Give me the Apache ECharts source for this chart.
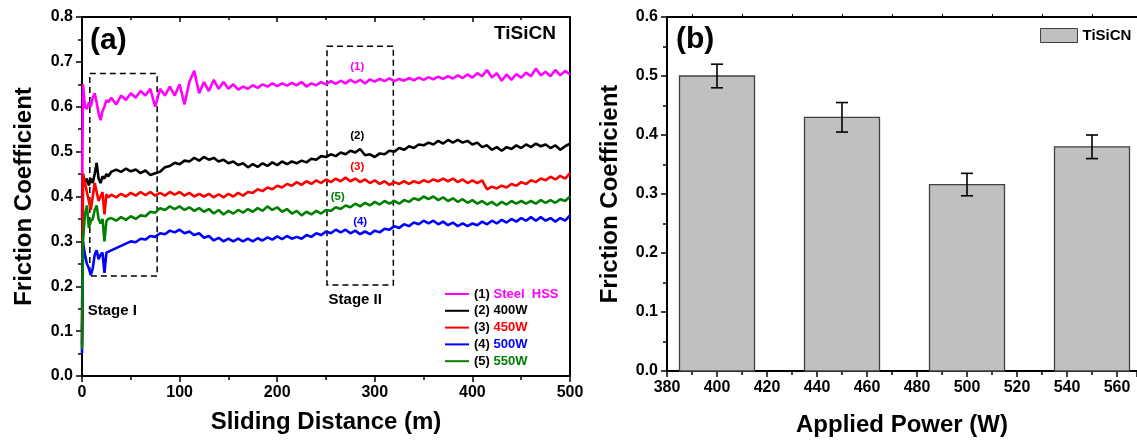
<!DOCTYPE html>
<html><head><meta charset="utf-8">
<script src="https://cdn.jsdelivr.net/npm/echarts@6/dist/echarts.min.js"></script>
<style>html,body{margin:0;padding:0;background:#fff}#c{width:1137px;height:444px}</style>
</head><body><div id="c"></div>
<script>
// ---------- DATA: panel (a) ----------
const distance = [0,1,3,5,7,9,11,13,15,17,19,21,23,25,27,30,
  35,40,45,50,55,60,65,70,75,80,
  85,90,95,100,105,110,115,120,125,130,
  135,140,145,150,155,160,165,170,175,180,
  185,190,195,200,205,210,215,220,225,230,
  235,240,245,250,255,260,265,270,275,280,
  285,290,295,300,305,310,315,320,325,330,
  335,340,345,350,355,360,365,370,375,380,
  385,390,395,400,405,410,415,420,425,430,
  435,440,445,450,455,460,465,470,475,480,
  485,490,495,500];

const steelHSS = [0.35,0.65,0.60,0.595,0.61,0.60,0.62,0.63,0.61,0.585,0.57,0.59,0.60,0.615,0.61,0.62,
  0.605,0.625,0.615,0.63,0.62,0.635,0.625,0.64,0.60,0.64,
  0.625,0.645,0.625,0.65,0.605,0.655,0.68,0.63,0.655,0.635,
  0.66,0.64,0.655,0.64,0.65,0.638,0.645,0.64,0.648,0.642,
  0.65,0.645,0.652,0.646,0.652,0.647,0.653,0.648,0.655,0.645,
  0.652,0.648,0.655,0.65,0.657,0.651,0.658,0.652,0.66,0.654,
  0.66,0.652,0.661,0.656,0.662,0.657,0.663,0.657,0.662,0.658,
  0.664,0.659,0.665,0.66,0.666,0.661,0.667,0.662,0.668,0.663,
  0.67,0.664,0.672,0.665,0.675,0.668,0.682,0.665,0.675,0.658,
  0.672,0.66,0.673,0.665,0.676,0.668,0.685,0.67,0.678,0.668,
  0.682,0.67,0.68,0.672];

const w400 = [0.10,0.45,0.43,0.44,0.425,0.44,0.43,0.45,0.475,0.44,0.43,0.445,0.44,0.45,0.445,0.455,
  0.46,0.455,0.462,0.456,0.46,0.452,0.458,0.448,0.452,0.455,
  0.465,0.468,0.475,0.472,0.48,0.478,0.486,0.48,0.488,0.482,
  0.486,0.478,0.482,0.474,0.478,0.47,0.474,0.465,0.472,0.466,
  0.474,0.468,0.476,0.47,0.478,0.472,0.478,0.474,0.48,0.476,
  0.484,0.482,0.49,0.488,0.494,0.49,0.498,0.494,0.502,0.498,
  0.506,0.492,0.494,0.488,0.496,0.494,0.502,0.5,0.508,0.504,
  0.512,0.508,0.516,0.514,0.52,0.516,0.524,0.518,0.526,0.52,
  0.526,0.52,0.524,0.516,0.52,0.51,0.514,0.504,0.51,0.502,
  0.51,0.506,0.514,0.508,0.516,0.51,0.518,0.512,0.516,0.508,
  0.514,0.504,0.512,0.518];

const w450 = [0.07,0.45,0.43,0.41,0.39,0.37,0.40,0.43,0.41,0.39,0.40,0.41,0.36,0.405,0.398,0.404,
  0.398,0.406,0.4,0.408,0.402,0.41,0.403,0.41,0.402,0.408,
  0.402,0.41,0.404,0.41,0.402,0.408,0.4,0.406,0.4,0.406,
  0.398,0.405,0.398,0.406,0.4,0.408,0.402,0.41,0.408,0.416,
  0.412,0.42,0.416,0.424,0.42,0.428,0.424,0.432,0.426,0.434,
  0.428,0.436,0.43,0.438,0.432,0.44,0.434,0.442,0.434,0.44,
  0.432,0.438,0.43,0.436,0.428,0.434,0.426,0.432,0.428,0.434,
  0.428,0.434,0.43,0.436,0.432,0.438,0.434,0.44,0.434,0.44,
  0.432,0.438,0.43,0.436,0.43,0.436,0.416,0.422,0.418,0.424,
  0.42,0.428,0.424,0.432,0.428,0.436,0.432,0.44,0.436,0.444,
  0.438,0.446,0.44,0.452];

const w500 = [0.05,0.30,0.27,0.25,0.24,0.225,0.24,0.27,0.28,0.26,0.27,0.275,0.23,0.275,0.272,0.28,
  0.285,0.29,0.295,0.3,0.298,0.306,0.304,0.312,0.31,0.318,
  0.316,0.324,0.32,0.326,0.318,0.322,0.314,0.318,0.308,0.312,
  0.302,0.308,0.3,0.306,0.3,0.306,0.3,0.306,0.3,0.307,
  0.302,0.309,0.304,0.311,0.305,0.312,0.306,0.31,0.306,0.314,
  0.31,0.318,0.314,0.322,0.318,0.326,0.32,0.326,0.318,0.324,
  0.316,0.322,0.316,0.324,0.32,0.328,0.326,0.334,0.33,0.338,
  0.334,0.342,0.338,0.346,0.34,0.346,0.338,0.344,0.336,0.342,
  0.334,0.34,0.334,0.34,0.336,0.344,0.338,0.346,0.34,0.348,
  0.342,0.35,0.344,0.352,0.346,0.354,0.346,0.354,0.346,0.352,
  0.344,0.352,0.346,0.358];

const w550 = [0.06,0.30,0.36,0.38,0.33,0.345,0.35,0.37,0.38,0.35,0.34,0.35,0.30,0.345,0.35,0.352,
  0.346,0.354,0.348,0.356,0.35,0.358,0.356,0.366,0.364,0.374,
  0.37,0.378,0.372,0.378,0.37,0.376,0.368,0.374,0.366,0.372,
  0.362,0.37,0.36,0.368,0.362,0.37,0.364,0.372,0.366,0.374,
  0.368,0.378,0.37,0.376,0.366,0.372,0.362,0.368,0.358,0.366,
  0.36,0.368,0.362,0.37,0.368,0.376,0.372,0.38,0.376,0.384,
  0.378,0.386,0.38,0.388,0.382,0.39,0.384,0.39,0.384,0.392,
  0.388,0.396,0.392,0.4,0.394,0.4,0.392,0.398,0.39,0.396,
  0.388,0.394,0.386,0.392,0.384,0.39,0.382,0.388,0.38,0.388,
  0.382,0.39,0.384,0.39,0.384,0.39,0.384,0.392,0.386,0.392,
  0.386,0.394,0.39,0.4];

const seriesTags = ['(1)','(2)','(3)','(4)','(5)'];
const seriesLabels = ['Steel  HSS','400W','450W','500W','550W'];
const seriesValues = [steelHSS, w400, w450, w500, w550];

// annotations (data coordinates)
const curveTagX = [282, 282, 282, 285, 262];
const curveTagY = [0.689, 0.535, 0.466, 0.344, 0.40];
const stageNames = ['Stage I', 'Stage II'];
const stageTextX = [31, 280];
const stageTextY = [0.145, 0.169];
const stageBoxX0 = [8, 251];
const stageBoxX1 = [77, 319];
const stageBoxYTop = [0.674, 0.735];
const stageBoxYBottom = [0.223, 0.203];

// ---------- DATA: panel (b) ----------
const powers = [400, 450, 500, 550];
const frictionMean = [0.50, 0.43, 0.316, 0.38];
const frictionErr = [0.02, 0.025, 0.019, 0.02];

// ---------- STYLE ----------
const FONT = '"Liberation Sans", Arial, sans-serif';
const colors = ['#ff00ff', '#000000', '#ff0000', '#0000ff', '#008000'];
const BAR_HALF = 15;   // half bar width in W
const CAP = 6;         // error cap half width px

const chart = echarts.init(document.getElementById('c'), null, {renderer: 'canvas'});

const lab = {fontFamily: FONT, fontWeight: 'bold', fontSize: 16, color: '#000'};
const nameStyle = {fontFamily: FONT, fontWeight: 'bold', fontSize: 24, color: '#000'};
const axLine = {show: true, onZero: false, lineStyle: {color: '#000', width: 2}};
const tickOut = {show: true, inside: false, length: 6, lineStyle: {color: '#000', width: 1.5}};
const tickIn = {show: true, inside: true, length: 5, lineStyle: {color: '#000', width: 1.5}};
const minorOut = {show: true, splitNumber: 2, length: 4, lineStyle: {color: '#000', width: 1.5}};

const lineSeries = seriesValues.map((vals, i) => ({
  name: seriesTags[i] + ' ' + seriesLabels[i],
  type: 'line',
  xAxisIndex: 0, yAxisIndex: 0,
  data: distance.map((d, k) => [d, vals[k]]),
  symbol: 'none', showSymbol: false,
  lineStyle: {color: colors[i], width: 2.6},
  itemStyle: {color: colors[i]},
  z: 3,
  markArea: i === 0 ? {
    silent: true,
    itemStyle: {color: 'rgba(0,0,0,0)', borderColor: '#000', borderWidth: 1.5, borderType: [6, 4]},
    data: stageNames.map((n, s) => [{coord: [stageBoxX0[s], stageBoxYTop[s]]}, {coord: [stageBoxX1[s], stageBoxYBottom[s]]}])
  } : undefined
}));

const tagLabel = (color, size) => ({show: true, position: 'inside', formatter: '{b}', color: color, opacity: 1,
  textBorderWidth: 0, textBorderColor: 'transparent', fontSize: size, fontWeight: 'bold', fontFamily: FONT});

const annotations = {
  type: 'scatter', xAxisIndex: 0, yAxisIndex: 0, symbolSize: 2,
  itemStyle: {color: 'rgba(0,0,0,0)'}, silent: true, z: 5,
  emphasis: {disabled: true},
  data: seriesTags.map((t, i) => ({
    name: t, value: [curveTagX[i], curveTagY[i]], label: tagLabel(colors[i], 11.5)
  })).concat(stageNames.map((n, s) => ({
    name: n, value: [stageTextX[s], stageTextY[s]], label: tagLabel('#000', 15)
  })))
};

const barSeries = {
  name: 'TiSiCN', type: 'custom', xAxisIndex: 2, yAxisIndex: 2,
  data: powers.map((p, i) => [p, frictionMean[i]]),
  itemStyle: {color: '#c0c0c0', borderColor: '#404040', borderWidth: 1},
  renderItem: function (params, api) {
    const x = api.value(0), y = api.value(1);
    const p1 = api.coord([x - BAR_HALF, y]);
    const p2 = api.coord([x + BAR_HALF, 0]);
    return {type: 'rect', shape: {x: p1[0], y: p1[1], width: p2[0] - p1[0], height: p2[1] - p1[1]},
      style: {fill: '#c0c0c0', stroke: '#404040', lineWidth: 1.3}};
  }
};
const errSeries = {
  type: 'custom', xAxisIndex: 2, yAxisIndex: 2, z: 4,
  data: powers.map((p, i) => [p, frictionMean[i], frictionErr[i]]),
  renderItem: function (params, api) {
    const x = api.value(0), y = api.value(1), e = api.value(2);
    const hi = api.coord([x, y + e]), lo = api.coord([x, y - e]);
    const st = {stroke: '#000', lineWidth: 1.6};
    return {type: 'group', children: [
      {type: 'line', shape: {x1: hi[0], y1: hi[1], x2: lo[0], y2: lo[1]}, style: st},
      {type: 'line', shape: {x1: hi[0] - CAP, y1: hi[1], x2: hi[0] + CAP, y2: hi[1]}, style: st},
      {type: 'line', shape: {x1: lo[0] - CAP, y1: lo[1], x2: lo[0] + CAP, y2: lo[1]}, style: st}
    ]};
  }
};

const rich = {k: {color: '#000', fontWeight: 'bold', fontSize: 13, fontFamily: FONT}};
colors.forEach((c, i) => { rich['c' + i] = {color: c, fontWeight: 'bold', fontSize: 13, fontFamily: FONT}; });

const option = {
  animation: false,
  backgroundColor: '#fff',
  grid: [
    {left: 82, top: 17, width: 488, height: 359},
    {left: 667, top: 17, width: 470, height: 354}
  ],
  xAxis: [
    {gridIndex: 0, type: 'value', min: 0, max: 500, interval: 100, position: 'bottom',
     axisLine: axLine, axisTick: tickOut, minorTick: minorOut, splitLine: {show: false}, minorSplitLine: {show: false},
     axisLabel: Object.assign({margin: 9}, lab),
     name: 'Sliding Distance (m)', nameLocation: 'middle', nameGap: 34, nameTextStyle: nameStyle},
    {gridIndex: 0, type: 'value', min: 0, max: 500, interval: 100, position: 'top',
     axisLine: axLine, axisTick: tickIn, minorTick: {show: true, splitNumber: 2, length: 3, lineStyle: {color: '#000', width: 1.5}},
     axisLabel: {show: false}, splitLine: {show: false}},
    {gridIndex: 1, type: 'value', min: 380, max: 568, interval: 20, position: 'bottom',
     axisLine: axLine, axisTick: tickOut, minorTick: minorOut, splitLine: {show: false},
     axisLabel: Object.assign({margin: 9, showMaxLabel: false}, lab),
     name: 'Applied Power (W)', nameLocation: 'middle', nameGap: 42, nameTextStyle: nameStyle},
    {gridIndex: 1, type: 'value', min: 380, max: 568, interval: 20, position: 'top',
     axisLine: axLine, axisTick: {show: false}, minorTick: {show: true, splitNumber: 2, length: 3, lineStyle: {color: '#000', width: 1}},
     axisLabel: {show: false}, splitLine: {show: false}}
  ],
  yAxis: [
    {gridIndex: 0, type: 'value', min: 0, max: 0.8, interval: 0.1, position: 'left',
     axisLine: axLine, axisTick: tickOut, minorTick: minorOut, splitLine: {show: false},
     axisLabel: Object.assign({margin: 9, formatter: v => v.toFixed(1)}, lab),
     name: 'Friction Coefficient', nameLocation: 'middle', nameGap: 46, nameTextStyle: nameStyle},
    {gridIndex: 0, type: 'value', min: 0, max: 0.8, interval: 0.1, position: 'right',
     axisLine: axLine, axisTick: {show: false}, axisLabel: {show: false}, splitLine: {show: false}},
    {gridIndex: 1, type: 'value', min: 0, max: 0.6, interval: 0.1, position: 'left',
     axisLine: axLine, axisTick: tickOut, minorTick: minorOut, splitLine: {show: false},
     axisLabel: Object.assign({margin: 9, formatter: v => v.toFixed(1)}, lab),
     name: 'Friction Coefficient', nameLocation: 'middle', nameGap: 45, nameTextStyle: nameStyle}
  ],
  legend: [
    {orient: 'vertical', left: 445, top: 287, padding: 0, itemGap: 2.8, itemWidth: 24, itemHeight: 2, icon: 'rect',
     data: lineSeries.map(s => s.name), selectedMode: false,
     textStyle: {fontSize: 13, fontWeight: 'bold', fontFamily: FONT, lineHeight: 14, rich: rich},
     formatter: function (name) { const i = lineSeries.findIndex(s => s.name === name); return '{k|' + seriesTags[i] + '} {c' + i + '|' + seriesLabels[i] + '}'; }},
    {orient: 'vertical', left: 1040, top: 28, padding: 0, itemWidth: 37, itemHeight: 14, icon: 'rect', selectedMode: false,
     data: ['TiSiCN'], itemStyle: {color: '#c0c0c0', borderColor: '#404040', borderWidth: 1},
     textStyle: {fontSize: 15, fontWeight: 'bold', fontFamily: FONT, color: '#000'}}
  ],
  graphic: [
    {type: 'text', x: 90, y: 41, style: {text: '(a)', fill: '#000', fontSize: 30, fontWeight: 'bold', fontFamily: FONT, align: 'left', verticalAlign: 'middle'}},
    {type: 'text', x: 556, y: 34, style: {text: 'TiSiCN', fill: '#000', fontSize: 19, fontWeight: 'bold', fontFamily: FONT, align: 'right', verticalAlign: 'middle'}},
    {type: 'text', x: 676, y: 40, style: {text: '(b)', fill: '#000', fontSize: 30, fontWeight: 'bold', fontFamily: FONT, align: 'left', verticalAlign: 'middle'}}
  ],
  series: lineSeries.concat([annotations, barSeries, errSeries])
};
chart.setOption(option);
</script></body></html>
